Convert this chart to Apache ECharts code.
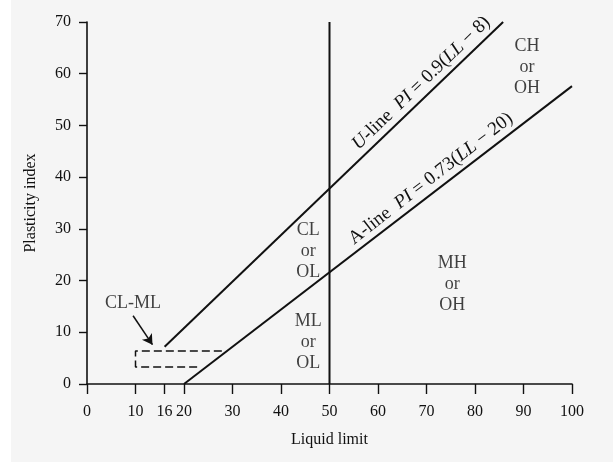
<!DOCTYPE html>
<html>
<head>
<meta charset="utf-8">
<script src="https://cdn.jsdelivr.net/npm/echarts@6/dist/echarts.min.js"></script>
<style>
html,body{margin:0;padding:0;background:#ffffff;}
#wrap{position:relative;width:613px;height:465px;background:#ffffff;overflow:hidden;}
#bg{position:absolute;left:11px;top:0;width:602px;height:462px;background:#f5f5f5;}
#chart{position:absolute;left:0;top:0;width:613px;height:465px;}
</style>
</head>
<body>
<div id="wrap"><div id="bg"></div><div id="chart"></div></div>
<script>
// ---- data ----
const xTickValues = [0, 10, 16, 20, 30, 40, 50, 60, 70, 80, 90, 100];
const uLine = [[16, 7.2], [85.8, 70]];          // U-line end points (LL, PI)
const aLine = [[20, 0], [100, 57.6]];           // A-line end points (LL, PI)
const llFifty = [[50, 0], [50, 70]];            // LL = 50 divider
const clmlBox = [[27.8, 6.4], [10, 6.4], [10, 3.3], [23.5, 3.3]]; // CL-ML dashed box
const uLabelSpan = [[56, 43.2], [85.4, 69.7]];
const aLabelSpan = [[50, 21.9], [94.4, 54.3]];
const arrowFrom = [9.5, 13.2];
const arrowTo = [13.5, 7.6];
const regionNames = ['CH\nor\nOH', 'MH\nor\nOH', 'CL\nor\nOL', 'ML\nor\nOL', 'CL-ML'];
const regionLL = [90.7, 75.3, 45.6, 45.6, 9.5];
const regionPI = [61.2, 19.2, 25.6, 8.1, 15.7];
const uLineText = '{i|U}-line  {i|PI} = 0.9({i|LL} \u2212 8)';
const aLineText = 'A-line  {i|PI} = 0.73({i|LL} \u2212 20)';

const serif = '"Liberation Serif", "DejaVu Serif", serif';
const ink = '#111111';
const chart = echarts.init(document.getElementById('chart'), null, {renderer: 'canvas'});

const regionData = regionNames.map((n, i) => ({value: [regionLL[i], regionPI[i]], name: n}));

const option = {
  backgroundColor: 'transparent',
  animation: false,
  grid: {left: 87, right: 41, top: 22, bottom: 81, containLabel: false},
  xAxis: {
    type: 'value', min: 0, max: 100, interval: 10,
    name: 'Liquid limit', nameLocation: 'middle', nameGap: 48,
    nameTextStyle: {fontFamily: serif, fontSize: 16, color: ink},
    axisLine: {show: true, onZero: false, lineStyle: {color: ink, width: 1.6}},
    axisTick: {show: true, length: 10, inside: false, customValues: xTickValues, lineStyle: {color: ink, width: 1.4}},
    axisLabel: {customValues: xTickValues, margin: 20, fontFamily: serif, fontSize: 16, color: ink},
    splitLine: {show: false}
  },
  yAxis: {
    type: 'value', min: 0, max: 70, interval: 10,
    name: 'Plasticity index', nameLocation: 'middle', nameGap: 48,
    nameTextStyle: {fontFamily: serif, fontSize: 16, color: ink},
    axisLine: {show: true, onZero: false, lineStyle: {color: ink, width: 1.6}},
    axisTick: {show: true, length: 8, lineStyle: {color: ink, width: 1.4}},
    axisLabel: {margin: 16, fontFamily: serif, fontSize: 16, color: ink},
    splitLine: {show: false}
  },
  series: [
    {
      type: 'line', data: uLine, symbol: 'none', silent: true,
      lineStyle: {color: ink, width: 2},
      markLine: {
        silent: true, symbol: ['none', 'none'],
        lineStyle: {color: 'transparent', width: 0},
        label: {
          show: true, position: 'insideMiddleTop', distance: 3,
          formatter: uLineText,
          fontFamily: serif, fontSize: 19, color: ink,
          rich: {i: {fontFamily: serif, fontStyle: 'italic', fontSize: 19, color: ink}}
        },
        data: [[{coord: uLabelSpan[0]}, {coord: uLabelSpan[1]}]]
      }
    },
    {
      type: 'line', data: aLine, symbol: 'none', silent: true,
      lineStyle: {color: ink, width: 2},
      markLine: {
        silent: true, symbol: ['none', 'none'],
        lineStyle: {color: 'transparent', width: 0},
        label: {
          show: true, position: 'insideMiddleTop', distance: 1,
          formatter: aLineText,
          fontFamily: serif, fontSize: 19, color: ink,
          rich: {i: {fontFamily: serif, fontStyle: 'italic', fontSize: 19, color: ink}}
        },
        data: [[{coord: aLabelSpan[0]}, {coord: aLabelSpan[1]}]]
      }
    },
    {
      type: 'line', data: llFifty, symbol: 'none', silent: true,
      lineStyle: {color: ink, width: 2}
    },
    {
      type: 'line', data: clmlBox, symbol: 'none', silent: true,
      lineStyle: {color: ink, width: 1.5, type: [8, 4]},
      markLine: {
        silent: true, symbol: ['none', 'arrow'], symbolSize: [9, 10],
        lineStyle: {color: ink, width: 1.5, type: 'solid'},
        label: {show: false},
        data: [[{coord: arrowFrom}, {coord: arrowTo}]]
      }
    },
    {
      type: 'scatter', data: regionData, symbolSize: 0, silent: true,
      label: {
        show: true, position: 'inside', formatter: p => p.name,
        fontFamily: serif, fontSize: 18, lineHeight: 21, color: ink, align: 'center', verticalAlign: 'middle'
      }
    }
  ]
};
chart.setOption(option);
</script>
</body>
</html>
